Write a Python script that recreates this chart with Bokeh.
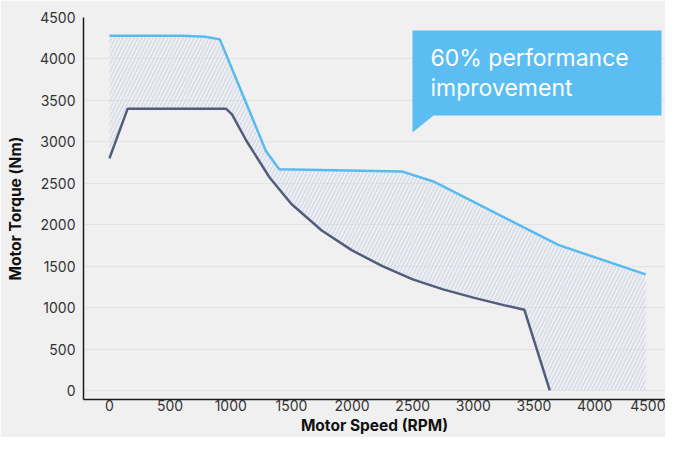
from bokeh.plotting import figure
from bokeh.models import Range1d, FixedTicker, Label
from bokeh.embed import file_html
from bokeh.resources import INLINE

# Data
upper_rpm = [0, 600, 790, 910, 1290, 1400, 2410, 2670, 3700, 4420]
upper_torque = [4280, 4280, 4268, 4236, 2890, 2670, 2643, 2522, 1756, 1400]

lower_rpm = [0, 150, 960, 1010, 1130, 1320, 1500, 1750, 2000, 2250, 2500, 2750, 3000, 3250, 3420, 3630]
lower_torque = [2800, 3400, 3400, 3330, 3010, 2570, 2250, 1930, 1690, 1500, 1340, 1220, 1120, 1030, 975, 0]

x_ticks = [0, 500, 1000, 1500, 2000, 2500, 3000, 3500, 4000, 4500]
y_ticks = [0, 500, 1000, 1500, 2000, 2500, 3000, 3500, 4000, 4500]

callout_lines = ["60% performance", "improvement"]

BG = "#f0f0f0"
UPPER = "#58bbf0"
LOWER = "#525d7b"
FONT = "Inter"

p = figure(width=665, height=437, output_backend="svg", toolbar_location=None,
           x_range=Range1d(-214, 4584), y_range=Range1d(-109, 4500),
           min_border_left=83, min_border_right=0, min_border_top=17, min_border_bottom=38)
p.background_fill_color = BG
p.border_fill_color = BG
p.outline_line_color = None

# hatched area between curves
fill_x = upper_rpm + [upper_rpm[-1]] + lower_rpm[::-1]
fill_y = upper_torque + [0] + lower_torque[::-1]
p.patch(fill_x, fill_y, fill_color=None, line_color=None,
        hatch_pattern="/", hatch_color="#c6d0e8", hatch_scale=7.5, hatch_weight=1)

p.line(upper_rpm, upper_torque, line_color=UPPER, line_width=2.5)
p.line(lower_rpm, lower_torque, line_color=LOWER, line_width=2.5)

# callout box
bx0, bx1, by0, by1 = 2498, 4551, 3318, 4343
p.patch([bx0, bx1, bx1, 2671, bx0], [by1, by1, by0, by0, 3113],
        fill_color="#5bbdf1", line_color=None)
p.add_layout(Label(x=2647, y=4010, text=callout_lines[0], text_color="white",
                   text_font=FONT, text_font_size="23px", text_baseline="alphabetic"))
p.add_layout(Label(x=2647, y=3648, text=callout_lines[1], text_color="white",
                   text_font=FONT, text_font_size="23px", text_baseline="alphabetic"))

p.xgrid.grid_line_color = None
p.ygrid.grid_line_color = "#e3e3e3"
p.ygrid.grid_line_width = 1

for ax in (p.xaxis, p.yaxis):
    ax.axis_line_color = "#1a1a1a"
    ax.axis_line_width = 1.5
    ax.major_tick_line_color = None
    ax.minor_tick_line_color = None
    ax.major_tick_out = 0
    ax.major_tick_in = 0
    ax.major_label_text_font = FONT
    ax.major_label_text_font_size = "14px"
    ax.major_label_text_color = "#333333"
    ax.axis_label_text_font = FONT
    ax.axis_label_text_font_size = "15.5px"
    ax.axis_label_text_font_style = "bold"
    ax.axis_label_text_color = "#111111"

p.xaxis.ticker = FixedTicker(ticks=x_ticks)
p.yaxis.ticker = FixedTicker(ticks=y_ticks)
p.xaxis.axis_label = "Motor Speed (RPM)"
p.yaxis.axis_label = "Motor Torque (Nm)"
p.xaxis.major_label_standoff = 0
p.yaxis.major_label_standoff = 8
p.xaxis.axis_label_standoff = 2
p.yaxis.axis_label_standoff = 12

open("out.html", "w").write(file_html(p, INLINE))
